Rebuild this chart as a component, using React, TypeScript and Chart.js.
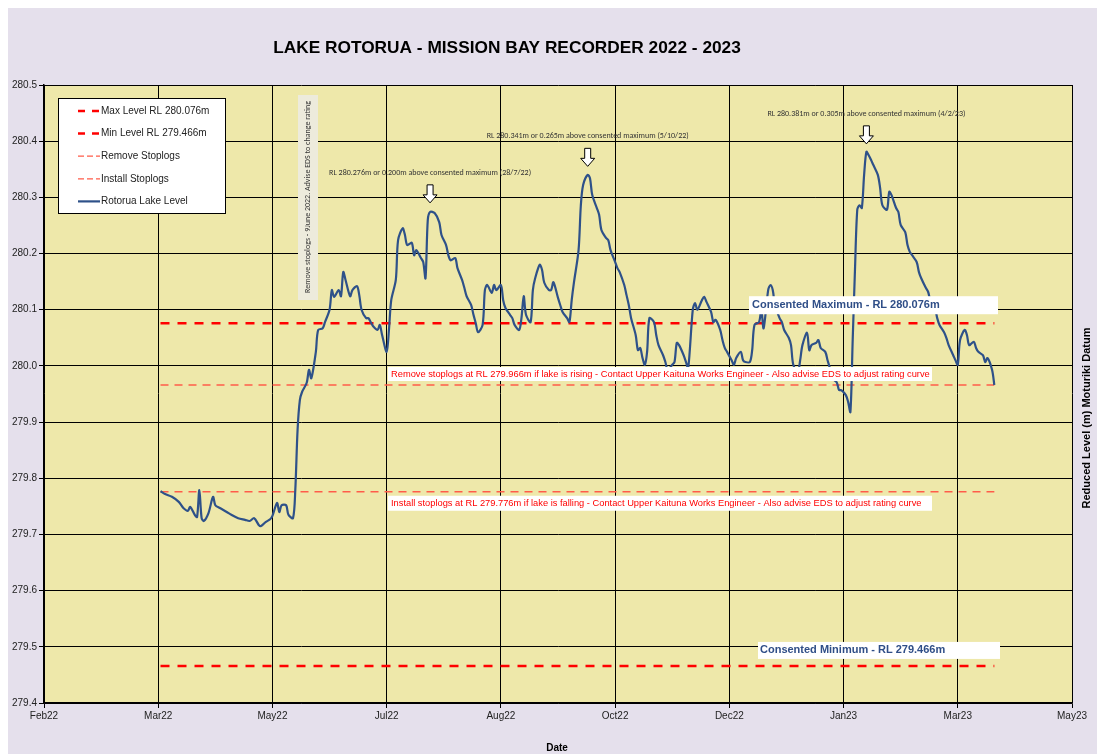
import React, { useEffect, useRef } from "react";
import { Chart, registerables } from "chart.js";

Chart.register(...registerables);

// ---------- text ----------
const TITLE = "LAKE ROTORUA - MISSION BAY RECORDER 2022 - 2023";
const X_TITLE = "Date";
const Y_TITLE = "Reduced Level (m) Moturiki Datum";
const STOPLOG_NOTE = "Remove stoplogs - 9June 2022. Advise EDS to change rating";
const REMOVE_NOTE =
  "Remove stoplogs at RL 279.966m if lake is rising - Contact Upper Kaituna Works Engineer - Also advise EDS to adjust rating curve";
const INSTALL_NOTE =
  "Install stoplogs at RL 279.776m if lake is falling - Contact Upper Kaituna Works Engineer - Also advise EDS to adjust rating curve";
const MAX_NOTE = "Consented Maximum - RL 280.076m";
const MIN_NOTE = "Consented Minimum - RL 279.466m";

// ---------- axes ----------
// x values are days counted from 9 Feb 2022 (axis start); ticks every 50 days
const tickLabels = ["Feb22", "Mar22", "May22", "Jul22", "Aug22", "Oct22", "Dec22", "Jan23", "Mar23", "May23"];
const X_MIN = 0;
const X_MAX = 450;
const X_STEP = 50;
const Y_MIN = 279.4;
const Y_MAX = 280.5;
const Y_STEP = 0.1;

// ---------- reference levels ----------
const MAX_LEVEL = 280.076;
const MIN_LEVEL = 279.466;
const REMOVE_LEVEL = 279.966;
const INSTALL_LEVEL = 279.776;
const refLineDays = [51, 416];

// ---------- peaks ----------
const peakDays = [169, 238, 360];
const peakLevels = [280.276, 280.341, 280.381];
const peakNotes = [
  "RL 280.276m or 0.200m above consented maximum (28/7/22)",
  "RL 280.341m or 0.265m above consented maximum (5/10/22)",
  "RL 280.381m or 0.305m above consented maximum (4/2/23)",
];

// ---------- lake level series ----------
const levelDays = [
  51, 53, 56, 59, 61, 63, 64, 66, 67, 68,
  69, 70, 72, 74, 75, 77, 80, 82, 85, 88,
  90, 92, 94, 95, 97, 99, 100, 102, 103, 104,
  106, 107, 109, 110, 111, 112, 113, 115, 116, 117,
  119, 120, 122, 123, 125, 126, 127, 129, 130, 131,
  132, 134, 135, 137, 138, 139, 141, 142, 143, 144,
  146, 147, 148, 150, 151, 152, 154, 155, 157, 158,
  159, 161, 162, 163, 165, 166, 167, 168, 169, 171,
  173, 174, 176, 177, 178, 180, 181, 183, 184, 185,
  187, 188, 189, 190, 192, 193, 194, 196, 197, 198,
  200, 201, 202, 204, 205, 206, 208, 209, 210, 211,
  213, 214, 215, 217, 218, 219, 221, 222, 223, 225,
  226, 227, 229, 230, 231, 232, 234, 235, 236, 238,
  239, 240, 242, 243, 244, 246, 247, 248, 250, 251,
  252, 254, 255, 256, 257, 259, 260, 261, 262, 263,
  264, 265, 267, 268, 269, 271, 272, 273, 275, 276,
  277, 278, 280, 281, 282, 284, 285, 286, 288, 289,
  290, 292, 293, 294, 296, 297, 298, 299, 301, 302,
  303, 305, 306, 307, 309, 310, 311, 313, 314, 315,
  317, 318, 319, 320, 322, 323, 324, 326, 327, 328,
  330, 331, 332, 334, 335, 336, 338, 339, 340, 342,
  343, 344, 345, 347, 348, 349, 351, 352, 353, 354,
  355, 356, 357, 358, 359, 360, 361, 362, 363, 365,
  366, 367, 369, 370, 371, 373, 374, 375, 377, 378,
  379, 380, 382, 383, 384, 386, 387, 388, 390, 391,
  392, 394, 395, 396, 398, 399, 400, 401, 403, 404,
  405, 407, 408, 409, 411, 412, 413, 415, 416,
];
const levelValues = [
  279.777, 279.772, 279.767, 279.758, 279.747, 279.742, 279.749, 279.735, 279.731, 279.779,
  279.729, 279.724, 279.738, 279.767, 279.752, 279.747, 279.740, 279.735, 279.729, 279.726,
  279.724, 279.729, 279.717, 279.715, 279.722, 279.727, 279.733, 279.756, 279.740, 279.752,
  279.752, 279.735, 279.729, 279.779, 279.886, 279.939, 279.954, 279.970, 279.993, 279.978,
  280.025, 280.064, 280.067, 280.078, 280.100, 280.135, 280.123, 280.135, 280.124, 280.167,
  280.153, 280.124, 280.135, 280.142, 280.126, 280.100, 280.085, 280.085, 280.078, 280.071,
  280.064, 280.073, 280.055, 280.025, 280.064, 280.117, 280.153, 280.224, 280.245, 280.233,
  280.215, 280.219, 280.197, 280.206, 280.192, 280.185, 280.156, 280.260, 280.274, 280.272,
  280.256, 280.233, 280.215, 280.197, 280.188, 280.192, 280.174, 280.153, 280.139, 280.124,
  280.108, 280.091, 280.076, 280.060, 280.073, 280.135, 280.144, 280.130, 280.144, 280.135,
  280.144, 280.117, 280.103, 280.091, 280.085, 280.073, 280.064, 280.085, 280.124, 280.091,
  280.078, 280.135, 280.156, 280.180, 280.171, 280.148, 280.135, 280.135, 280.149, 280.121,
  280.108, 280.096, 280.085, 280.078, 280.117, 280.149, 280.206, 280.286, 280.322, 280.340,
  280.334, 280.304, 280.281, 280.269, 280.242, 280.228, 280.224, 280.206, 280.185, 280.174,
  280.167, 280.144, 280.126, 280.108, 280.085, 280.055, 280.028, 280.032, 280.014, 280.002,
  280.025, 280.085, 280.078, 280.055, 280.037, 280.019, 280.007, 279.993, 280.002, 280.007,
  280.041, 280.037, 280.019, 280.007, 279.996, 280.100, 280.112, 280.100, 280.117, 280.123,
  280.114, 280.096, 280.078, 280.082, 280.064, 280.046, 280.032, 280.025, 280.010, 280.002,
  280.014, 280.025, 280.010, 280.007, 280.007, 280.028, 280.073, 280.078, 280.100, 280.067,
  280.135, 280.144, 280.135, 280.108, 280.085, 280.078, 280.064, 280.050, 280.037, 280.002,
  279.989, 280.010, 280.037, 280.059, 280.028, 280.037, 280.041, 280.046, 280.032, 280.025,
  280.010, 279.996, 279.978, 279.971, 279.957, 279.957, 279.948, 279.936, 279.918, 280.046,
  280.171, 280.278, 280.286, 280.281, 280.340, 280.381, 280.375, 280.367, 280.358, 280.340,
  280.317, 280.286, 280.278, 280.310, 280.304, 280.281, 280.274, 280.251, 280.238, 280.215,
  280.203, 280.197, 280.185, 280.167, 280.156, 280.139, 280.132, 280.117, 280.103, 280.085,
  280.073, 280.060, 280.050, 280.037, 280.019, 280.010, 280.002, 280.046, 280.064, 280.055,
  280.037, 280.043, 280.032, 280.025, 280.019, 280.007, 280.014, 279.993, 279.966,
];

// ---------- styles ----------
const PAGE_BG = "#E5E0EC";
const PLOT_BG = "#EEE8AA";
const LAKE_BLUE = "#2E5189";
const RED = "#FF0000";
const SALMON = "#FF5C4A";
const NOTE_BLUE = "#2F4E87";
const SANS = "'Liberation Sans', Arial, sans-serif";
const CAL = "'Carlito', 'Liberation Sans Narrow', 'DejaVu Sans Condensed', 'Liberation Sans', sans-serif";

const legendItems = [
  { label: "Max Level RL 280.076m", color: RED, width: 2.5, dash: [7, 7] },
  { label: "Min Level RL 279.466m", color: RED, width: 2.5, dash: [7, 7] },
  { label: "Remove Stoplogs", color: SALMON, width: 1.2, dash: [6, 3] },
  { label: "Install Stoplogs", color: SALMON, width: 1.2, dash: [6, 3] },
  { label: "Rotorua Lake Level", color: LAKE_BLUE, width: 2.2, dash: [] as number[] },
];

function refLine(level: number) {
  return refLineDays.map((d) => ({ x: d, y: level }));
}

function drawArrow(ctx: CanvasRenderingContext2D, x: number, tipY: number) {
  const stemW = 6, stemH = 10, headW = 14, headH = 8;
  const top = tipY - stemH - headH;
  ctx.beginPath();
  ctx.moveTo(x - stemW / 2, top);
  ctx.lineTo(x + stemW / 2, top);
  ctx.lineTo(x + stemW / 2, top + stemH);
  ctx.lineTo(x + headW / 2, top + stemH);
  ctx.lineTo(x, tipY);
  ctx.lineTo(x - headW / 2, top + stemH);
  ctx.lineTo(x - stemW / 2, top + stemH);
  ctx.closePath();
  ctx.fillStyle = "#FFFFFF";
  ctx.fill();
  ctx.strokeStyle = "#000000";
  ctx.lineWidth = 1;
  ctx.stroke();
}

const decorPlugin = {
  id: "decor",
  beforeDraw(chart: any) {
    const { ctx, chartArea: a, width, height } = chart;
    ctx.save();
    ctx.fillStyle = "#FFFFFF";
    ctx.fillRect(0, 0, width, height);
    ctx.fillStyle = PAGE_BG;
    ctx.fillRect(8, 8, width - 8, height - 8);
    ctx.fillStyle = PLOT_BG;
    ctx.fillRect(a.left, a.top, a.right - a.left, a.bottom - a.top);
    ctx.restore();
  },
  afterDatasetsDraw(chart: any) {
    const { ctx, chartArea: a } = chart;
    const xs = chart.scales.x;
    const ys = chart.scales.y;
    ctx.save();

    // vertical stoplog note
    const nx = a.left + 254;
    ctx.fillStyle = "#EDEBDC";
    ctx.fillRect(nx, a.top + 10, 20, 205);
    ctx.translate(nx + 10, a.top + 112);
    ctx.rotate(-Math.PI / 2);
    ctx.fillStyle = "#333333";
    ctx.font = `8px ${CAL}`;
    ctx.textAlign = "center";
    ctx.textBaseline = "middle";
    ctx.fillText(STOPLOG_NOTE, 0, 0);
    ctx.setTransform(1, 0, 0, 1, 0, 0);

    // peak notes and arrows
    ctx.font = `8px ${CAL}`;
    ctx.textAlign = "center";
    ctx.textBaseline = "middle";
    peakDays.forEach((d, i) => {
      const px = xs.getPixelForValue(d);
      const tip = ys.getPixelForValue(peakLevels[i]) - 8;
      drawArrow(ctx, px, tip);
      ctx.fillStyle = "#333333";
      ctx.fillText(peakNotes[i], px, tip - 18 - 12);
    });

    // stoplog instruction boxes
    ctx.font = `9.3px ${SANS}`;
    ctx.textAlign = "left";
    const bx = a.left + 344;
    const bw = 544;
    const ry = ys.getPixelForValue(REMOVE_LEVEL);
    ctx.fillStyle = "#FFFFFF";
    ctx.fillRect(bx, ry - 18, bw, 14);
    ctx.fillStyle = RED;
    ctx.fillText(REMOVE_NOTE, bx + 3, ry - 11);
    const iy = ys.getPixelForValue(INSTALL_LEVEL);
    ctx.fillStyle = "#FFFFFF";
    ctx.fillRect(bx, iy + 4, bw, 15);
    ctx.fillStyle = RED;
    ctx.fillText(INSTALL_NOTE, bx + 3, iy + 11.5);

    // consented max / min boxes
    ctx.font = `bold 11px ${SANS}`;
    const my = ys.getPixelForValue(MAX_LEVEL);
    ctx.fillStyle = "#FFFFFF";
    ctx.fillRect(a.left + 705, my - 27, 249, 18);
    ctx.fillStyle = NOTE_BLUE;
    ctx.fillText(MAX_NOTE, a.left + 708, my - 18);
    const mny = ys.getPixelForValue(MIN_LEVEL);
    ctx.fillStyle = "#FFFFFF";
    ctx.fillRect(a.left + 714, mny - 24, 242, 17);
    ctx.fillStyle = NOTE_BLUE;
    ctx.fillText(MIN_NOTE, a.left + 716, mny - 15.5);
    ctx.restore();
  },
  afterDraw(chart: any) {
    const { ctx, chartArea: a } = chart;
    ctx.save();
    // legend
    const lx = a.left + 14;
    const ly = a.top + 13;
    ctx.fillStyle = "#FFFFFF";
    ctx.fillRect(lx, ly, 167, 115);
    ctx.strokeStyle = "#000000";
    ctx.lineWidth = 1;
    ctx.strokeRect(lx + 0.5, ly + 0.5, 167, 115);
    ctx.font = `10px ${SANS}`;
    ctx.textBaseline = "middle";
    ctx.textAlign = "left";
    legendItems.forEach((it, i) => {
      const y = ly + 13 + i * 22.6;
      ctx.beginPath();
      ctx.setLineDash(it.dash);
      ctx.strokeStyle = it.color;
      ctx.lineWidth = it.width;
      ctx.moveTo(lx + 20, y);
      ctx.lineTo(lx + 42, y);
      ctx.stroke();
      ctx.setLineDash([]);
      ctx.fillStyle = "#222222";
      ctx.fillText(it.label, lx + 43, y);
    });

    // titles
    ctx.fillStyle = "#000000";
    ctx.textAlign = "center";
    ctx.font = `bold 17.3px ${SANS}`;
    ctx.fillText(TITLE, 507, 48);
    ctx.font = `bold 10px ${SANS}`;
    ctx.fillText(X_TITLE, 557, 748);
    ctx.font = `bold 11px ${SANS}`;
    ctx.translate(1087, 418);
    ctx.rotate(-Math.PI / 2);
    ctx.fillText(Y_TITLE, 0, 0);
    ctx.restore();
  },
};

export default function App() {
  const ref = useRef<HTMLCanvasElement | null>(null);

  useEffect(() => {
    document.body.style.margin = "0";
    document.body.style.overflow = "hidden";
    const canvas = ref.current;
    if (!canvas) return;
    const lake = levelDays.map((d, i) => ({ x: d, y: levelValues[i] }));
    const chart = new Chart(canvas, {
      type: "line",
      data: {
        datasets: [
          {
            label: "Rotorua Lake Level",
            data: lake,
            borderColor: LAKE_BLUE,
            borderWidth: 2.2,
            pointRadius: 0,
            tension: 0.3,
            fill: false,
          },
          {
            label: "Max Level RL 280.076m",
            data: refLine(MAX_LEVEL),
            borderColor: RED,
            borderWidth: 2.5,
            borderDash: [9, 8],
            pointRadius: 0,
          },
          {
            label: "Min Level RL 279.466m",
            data: refLine(MIN_LEVEL),
            borderColor: RED,
            borderWidth: 2.5,
            borderDash: [9, 8],
            pointRadius: 0,
          },
          {
            label: "Remove Stoplogs",
            data: refLine(REMOVE_LEVEL),
            borderColor: SALMON,
            borderWidth: 1.3,
            borderDash: [8, 6],
            pointRadius: 0,
          },
          {
            label: "Install Stoplogs",
            data: refLine(INSTALL_LEVEL),
            borderColor: SALMON,
            borderWidth: 1.3,
            borderDash: [8, 6],
            pointRadius: 0,
          },
        ],
      },
      options: {
        responsive: false,
        animation: false,
        devicePixelRatio: 1,
        layout: { padding: { top: 85, right: 25, bottom: 0, left: 8 } },
        plugins: {
          legend: { display: false },
          tooltip: { enabled: false },
          title: { display: false },
        },
        scales: {
          x: {
            type: "linear",
            min: X_MIN,
            max: X_MAX,
            afterFit: (s: any) => {
              s.height = 51;
            },
            ticks: {
              stepSize: X_STEP,
              autoSkip: false,
              maxRotation: 0,
              padding: 2,
              color: "#222222",
              font: { family: SANS, size: 10 },
              callback: (v: any) => tickLabels[Math.round(Number(v) / X_STEP)] ?? "",
            },
            grid: { color: "#000000", lineWidth: 1, tickLength: 5, tickColor: "#000000" },
            border: { color: "#000000", width: 1.5 },
          },
          y: {
            min: Y_MIN,
            max: Y_MAX,
            afterFit: (s: any) => {
              s.width = 36;
            },
            ticks: {
              stepSize: Y_STEP,
              padding: 2,
              color: "#222222",
              font: { family: SANS, size: 10 },
              callback: (v: any) => Number(v).toFixed(1),
            },
            grid: { color: "#000000", lineWidth: 1, tickLength: 5, tickColor: "#000000" },
            border: { color: "#000000", width: 1.5 },
          },
        },
      },
      plugins: [decorPlugin],
    } as any);
    return () => chart.destroy();
  }, []);

  return (
    <canvas
      ref={ref}
      width={1097}
      height={754}
      style={{ display: "block", width: "1097px", height: "754px" }}
    />
  );
}
